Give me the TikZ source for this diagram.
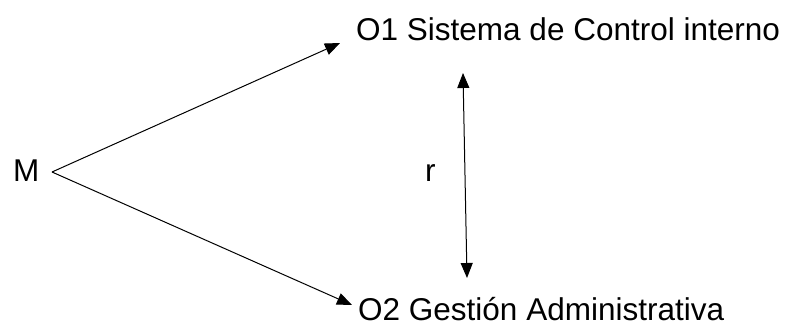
\documentclass[tikz,border=0pt]{standalone}
\usepackage{fontspec}
\setmainfont{Liberation Sans}
\usetikzlibrary{arrows.meta}
\begin{document}
\begin{tikzpicture}[x=1pt,y=-1pt,
  lbl/.style={anchor=base west,inner sep=0pt,text depth=0pt,font=\fontsize{31.5}{38}\selectfont},
  conn/.style={line width=1pt,-{Triangle[length=15pt,width=12pt]}},
  dconn/.style={line width=1pt,{Triangle[length=15pt,width=12pt]}-{Triangle[length=15pt,width=12pt]}}]
\useasboundingbox (0,0) rectangle (789,327);
\node[lbl] (M) at (13,181) {M};
\node[lbl] (r) at (425,181) {r};
\node[lbl] (O1) at (356,40) {O1 Sistema de Control interno};
\node[lbl] (O2) at (358,320) {O2 Gestión Administrativa};
\coordinate (apex) at (52,172);
\coordinate (t1) at (340,43);
\coordinate (t2) at (352,305);
\coordinate (rt) at (463,73);
\coordinate (rb) at (467,278);
\draw[conn] (apex) -- (t1);
\draw[conn] (apex) -- (t2);
\draw[dconn] (rt) -- (rb);
\end{tikzpicture}
\end{document}
